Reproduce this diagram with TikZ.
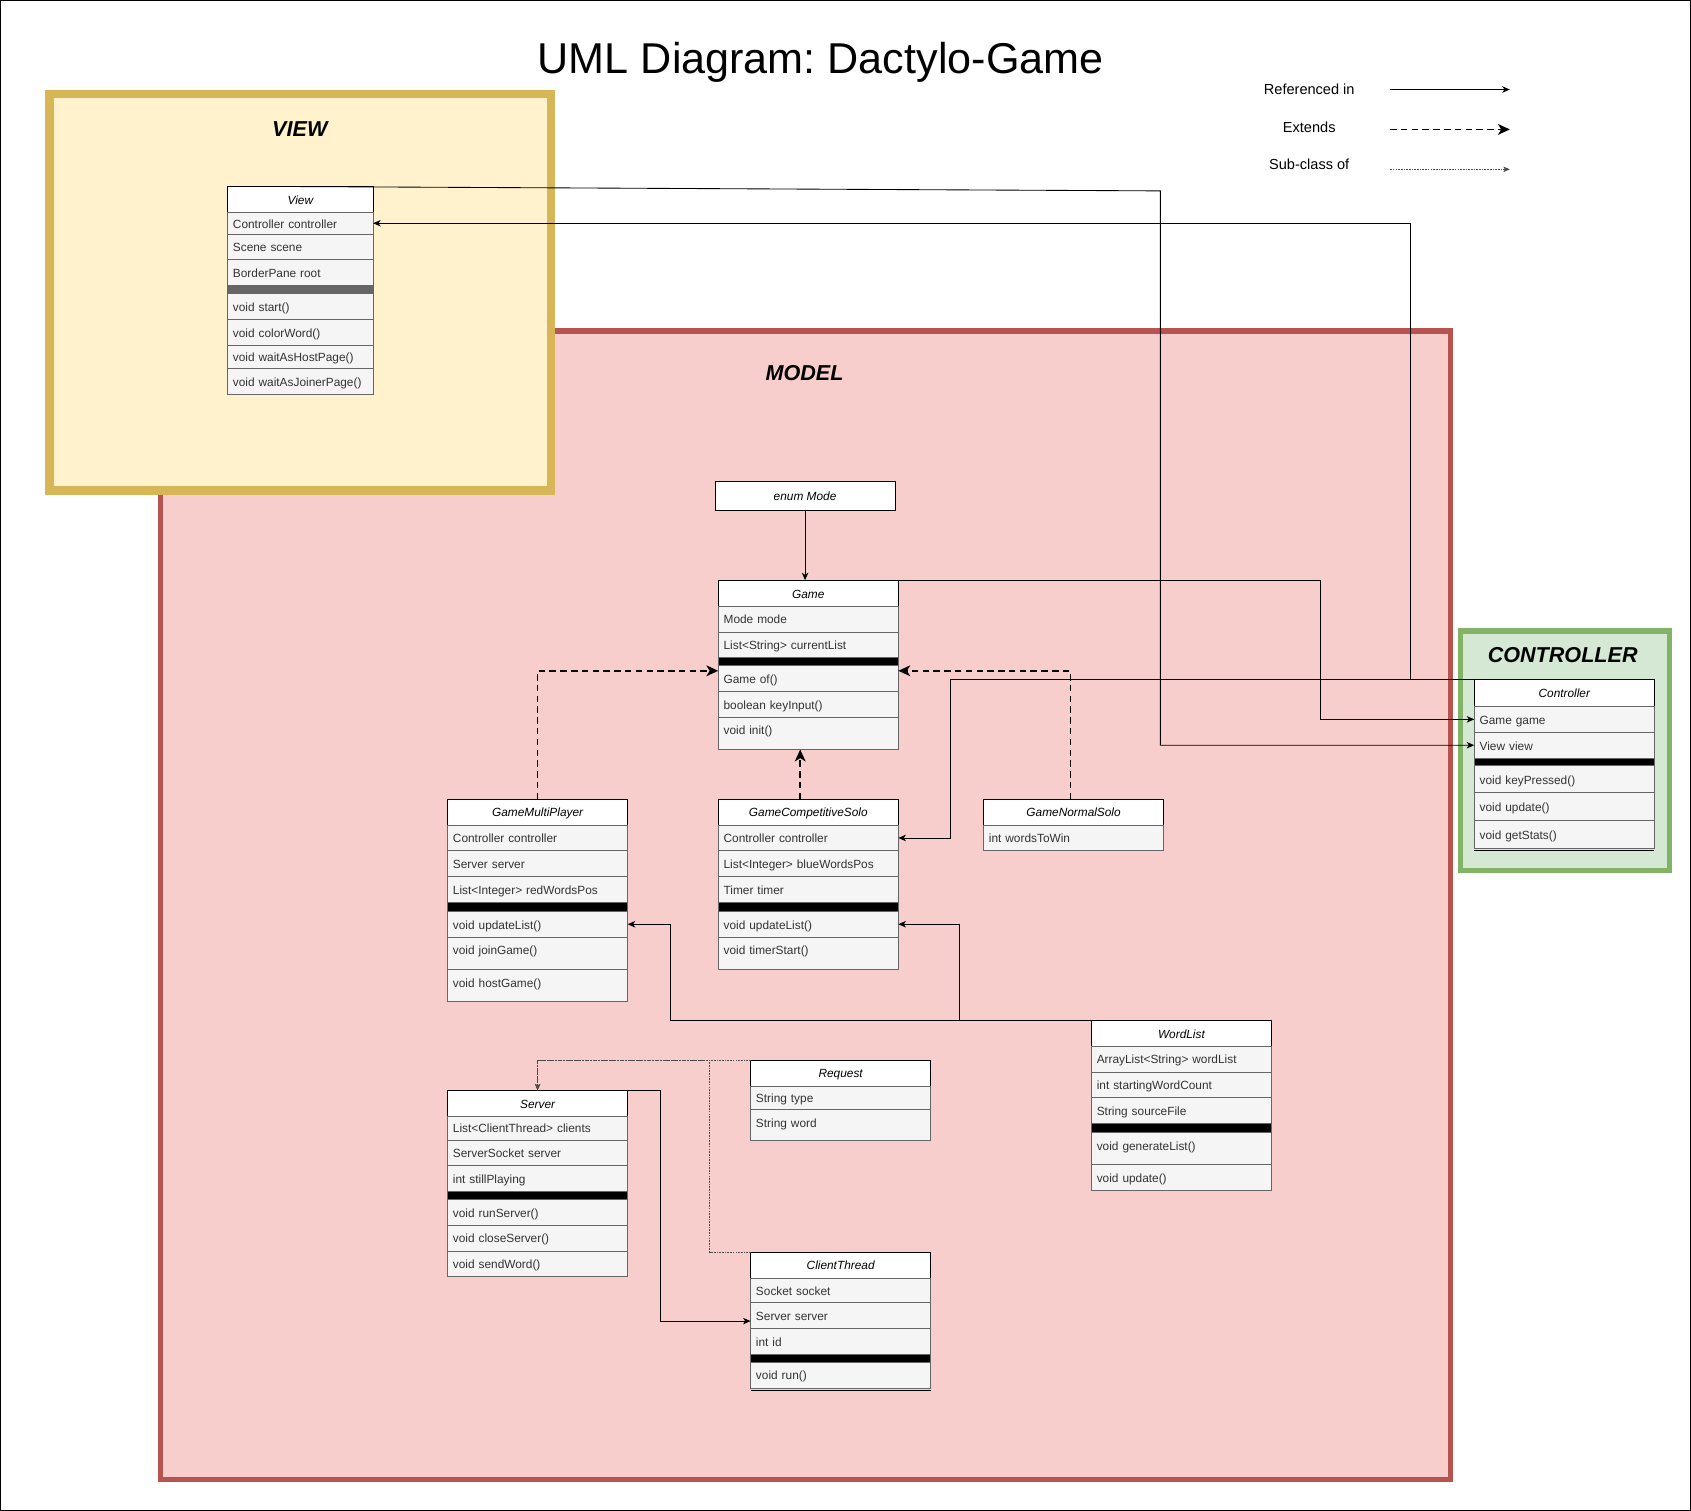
\documentclass[tikz,border=0pt]{standalone}
\usepackage{fontspec}
\setmainfont{Liberation Sans}
\usepackage{tikz}
\usetikzlibrary{arrows.meta, positioning}

\definecolor{rowfill}{HTML}{F5F5F5}
\definecolor{rowline}{HTML}{666666}
\definecolor{rowtext}{HTML}{333333}
\definecolor{viewfill}{HTML}{FFF2CC}
\definecolor{viewline}{HTML}{D6B656}
\definecolor{modelfill}{HTML}{F8CECC}
\definecolor{modelline}{HTML}{B85450}
\definecolor{ctrlfill}{HTML}{D5E8D4}
\definecolor{ctrlline}{HTML}{82B366}

\newcommand{\rowfont}{\fontsize{11}{13}\selectfont}

\begin{document}
\frenchspacing
\begin{tikzpicture}[x=1pt, y=-1pt,
        head/.style={rectangle, draw=black, fill=white, line width=0.8pt, minimum width=167pt, minimum height=24pt, inner sep=0pt, outer sep=0pt, text height=10pt, text depth=1pt, font=\rowfont\itshape},
        attr/.style={rectangle, draw=rowline, fill=rowfill, text=rowtext, line width=0.8pt, text width=157pt, minimum height=24pt, inner xsep=5pt, inner ysep=0pt, outer sep=0pt, text height=10pt, text depth=1pt, align=left, font=\rowfont},
        sepbar/.style={rectangle, draw=rowline, fill=black, line width=0.8pt, minimum width=167pt, minimum height=7pt, inner sep=0pt, outer sep=0pt},
        narrow/.style={text width=125pt, minimum width=135pt},
        tall/.style={minimum height=30pt, text depth=7pt},
        area/.style={font=\fontsize{20}{24}\selectfont\bfseries\itshape},
        legend/.style={font=\fontsize{13.5}{16}\selectfont},
        ref/.style={-{Stealth[length=7pt, width=6pt, inset=2pt]}, line width=0.8pt},
        ext/.style={-{Stealth[length=11pt, width=10pt, inset=3pt]}, line width=1.6pt, dash pattern=on 6pt off 4pt},
        sub/.style={-{Stealth[length=6pt, width=5pt, inset=1.5pt]}, line width=0.7pt, draw=black!70, dash pattern=on 1.5pt off 1pt}
    ]
        \useasboundingbox (0,0) rectangle (1568,1401);
        \draw[fill=white, line width=1.2pt] (0.6,0.6) rectangle (1567.4,1400.4);

        % title and legend
        \node[font=\fontsize{40}{48}\selectfont, anchor=base] (title) at (761,68) {UML Diagram: Dactylo-Game};
        \node[legend] (lref) at (1214,83) {Referenced in};
        \node[legend] (lext) at (1214,118) {Extends};
        \node[legend] (lsub) at (1214,152) {Sub-class of};
        \coordinate (lrefa) at (1289,83);
        \coordinate (lrefb) at (1400,83);
        \coordinate (lexta) at (1289,120);
        \coordinate (lextb) at (1400,120);
        \coordinate (lsuba) at (1289,157);
        \coordinate (lsubb) at (1400,157);
        \draw[ref] (lrefa) -- (lrefb);
        \draw[ext] (lexta) -- (lextb);
        \draw[sub] (lsuba) -- (lsubb);

        % packages
        \draw[modelline, fill=modelfill, line width=5pt] (149,307) rectangle (1345,1372);
        \draw[viewline, fill=viewfill, line width=8pt] (46,87) rectangle (511,455);
        \draw[ctrlline, fill=ctrlfill, line width=5pt] (1354,585) rectangle (1548,807);
        \node[area] (viewlbl) at (278,120) {VIEW};
        \node[area] (modellbl) at (746,346) {MODEL};
        \node[area] (ctrllbl) at (1449,607) {CONTROLLER};

        % View
        \node[head, minimum width=135pt, anchor=north west] (vhead) at (211,173) {View};
        \node[attr, narrow, minimum height=20pt, below=0pt of vhead] (vctrl) {Controller controller};
        \node[attr, narrow, below=0pt of vctrl] (vscene) {Scene scene};
        \node[attr, narrow, below=0pt of vscene] (vroot) {BorderPane root};
        \node[sepbar, minimum width=135pt, fill=rowline, below=0pt of vroot] (vsep) {};
        \node[attr, narrow, below=0pt of vsep] (vstart) {void start()};
        \node[attr, narrow, below=0pt of vstart] (vcolor) {void colorWord()};
        \node[attr, narrow, minimum height=22pt, below=0pt of vcolor] (vhost) {void waitAsHostPage()};
        \node[attr, narrow, below=0pt of vhost] (vjoin) {void waitAsJoinerPage()};

        % Mode and Game
        \node[head, minimum height=27pt, anchor=north west] (mode) at (663,446) {enum Mode};
        \node[head, anchor=north west] (ghead) at (666,538) {Game};
        \node[attr, below=0pt of ghead] (gmode) {Mode mode};
        \node[attr, below=0pt of gmode] (glist) {List<String> currentList};
        \node[sepbar, below=0pt of glist] (gsep) {};
        \node[attr, below=0pt of gsep] (gof) {Game of()};
        \node[attr, below=0pt of gof] (gkey) {boolean keyInput()};
        \node[attr, tall, below=0pt of gkey] (ginit) {void init()};

        % GameMultiPlayer
        \node[head, anchor=north west] (gmphead) at (415,741) {GameMultiPlayer};
        \node[attr, below=0pt of gmphead] (gmpctrl) {Controller controller};
        \node[attr, below=0pt of gmpctrl] (gmpsrv) {Server server};
        \node[attr, below=0pt of gmpsrv] (gmpred) {List<Integer> redWordsPos};
        \node[sepbar, minimum height=8pt, below=0pt of gmpred] (gmpsep) {};
        \node[attr, below=0pt of gmpsep] (gmpupd) {void updateList()};
        \node[attr, tall, below=0pt of gmpupd] (gmpjoin) {void joinGame()};
        \node[attr, tall, below=0pt of gmpjoin] (gmphost) {void hostGame()};

        % GameCompetitiveSolo
        \node[head, anchor=north west] (gcshead) at (666,741) {GameCompetitiveSolo};
        \node[attr, below=0pt of gcshead] (gcsctrl) {Controller controller};
        \node[attr, below=0pt of gcsctrl] (gcsblue) {List<Integer> blueWordsPos};
        \node[attr, below=0pt of gcsblue] (gcstimer) {Timer timer};
        \node[sepbar, minimum height=8pt, below=0pt of gcstimer] (gcssep) {};
        \node[attr, below=0pt of gcssep] (gcsupd) {void updateList()};
        \node[attr, tall, below=0pt of gcsupd] (gcsstart) {void timerStart()};

        % GameNormalSolo
        \node[head, anchor=north west] (gnshead) at (912,741) {GameNormalSolo};
        \node[attr, below=0pt of gnshead] (gnswin) {int wordsToWin};

        % WordList
        \node[head, anchor=north west] (wlhead) at (1012,946) {WordList};
        \node[attr, below=0pt of wlhead] (wlwords) {ArrayList<String> wordList};
        \node[attr, below=0pt of wlwords] (wlcount) {int startingWordCount};
        \node[attr, below=0pt of wlcount] (wlfile) {String sourceFile};
        \node[sepbar, minimum height=8pt, below=0pt of wlfile] (wlsep) {};
        \node[attr, tall, below=0pt of wlsep] (wlgen) {void generateList()};
        \node[attr, below=0pt of wlgen] (wlupd) {void update()};

        % Server
        \node[head, anchor=north west] (srvhead) at (415,1011) {Server};
        \node[attr, minimum height=22pt, below=0pt of srvhead] (srvclients) {List<ClientThread> clients};
        \node[attr, below=0pt of srvclients] (srvsocket) {ServerSocket server};
        \node[attr, below=0pt of srvsocket] (srvplay) {int stillPlaying};
        \node[sepbar, below=0pt of srvplay] (srvsep) {};
        \node[attr, below=0pt of srvsep] (srvrun) {void runServer()};
        \node[attr, below=0pt of srvrun] (srvclose) {void closeServer()};
        \node[attr, below=0pt of srvclose] (srvsend) {void sendWord()};

        % Request
        \node[head, anchor=north west] (reqhead) at (696,983) {Request};
        \node[attr, minimum height=22pt, below=0pt of reqhead] (reqtype) {String type};
        \node[attr, minimum height=28pt, text depth=5pt, below=0pt of reqtype] (reqword) {String word};

        % ClientThread
        \node[head, anchor=north west] (cthead) at (696,1161) {ClientThread};
        \node[attr, minimum height=23pt, below=0pt of cthead] (ctsocket) {Socket socket};
        \node[attr, below=0pt of ctsocket] (ctsrv) {Server server};
        \node[attr, below=0pt of ctsrv] (ctid) {int id};
        \node[sepbar, below=0pt of ctid] (ctsep) {};
        \node[attr, below=0pt of ctsep] (ctrun) {void run()};
        \draw[line width=0.8pt] ([yshift=-2pt]ctrun.south west) -- ([yshift=-2pt]ctrun.south east);

        % Controller
        \node[head, minimum height=25pt, anchor=north west] (chead) at (1367,630) {Controller};
        \node[attr, below=0pt of chead] (cgame) {Game game};
        \node[attr, below=0pt of cgame] (cview) {View view};
        \node[sepbar, below=0pt of cview] (csep) {};
        \node[attr, minimum height=25pt, below=0pt of csep] (ckey) {void keyPressed()};
        \node[attr, minimum height=26pt, below=0pt of ckey] (cupd) {void update()};
        \node[attr, minimum height=26pt, below=0pt of cupd] (cstats) {void getStats()};
        \draw[line width=0.8pt] ([yshift=-2pt]cstats.south west) -- ([yshift=-2pt]cstats.south east);

        % references
        \draw[ref] (mode) -- (mode |- ghead.north);
        \draw[ref] (vhead.north) -- (1076,177) |- (cview.west);
        \draw[ref] (chead.north) -- (1308,630) |- (vctrl.east);
        \draw[ref] (chead.north) -- (881,630) |- (gcsctrl.east);
        \draw[ref] (ghead.north) -- (1224,538) |- (cgame.west);
        \draw[ref] (wlhead.north west) -- (622,946) |- (gmpupd.east);
        \draw[ref] (wlhead.north west) -- (890,946) |- (gcsupd.east);
        \draw[ref] (srvhead.north east) -- (612,1011) |- ([yshift=-5pt]ctsrv.west);

        % extends
        \draw[ext] (gmphead.north) |- ([yshift=7pt]gof.west);
        \draw[ext] ([xshift=-3pt]gnshead.north) |- ([yshift=7pt]gof.east);
        \draw[ext] ([xshift=-7.5pt]gcshead.north) -- ([xshift=-7.5pt]ginit.south);

        % sub-classes
        \draw[sub] (reqhead.north west) -| (srvhead.north);
        \draw[sub] (cthead.north west) -- (658,1161) -- (658,983) -| (srvhead.north);
    \end{tikzpicture}
\end{document}
